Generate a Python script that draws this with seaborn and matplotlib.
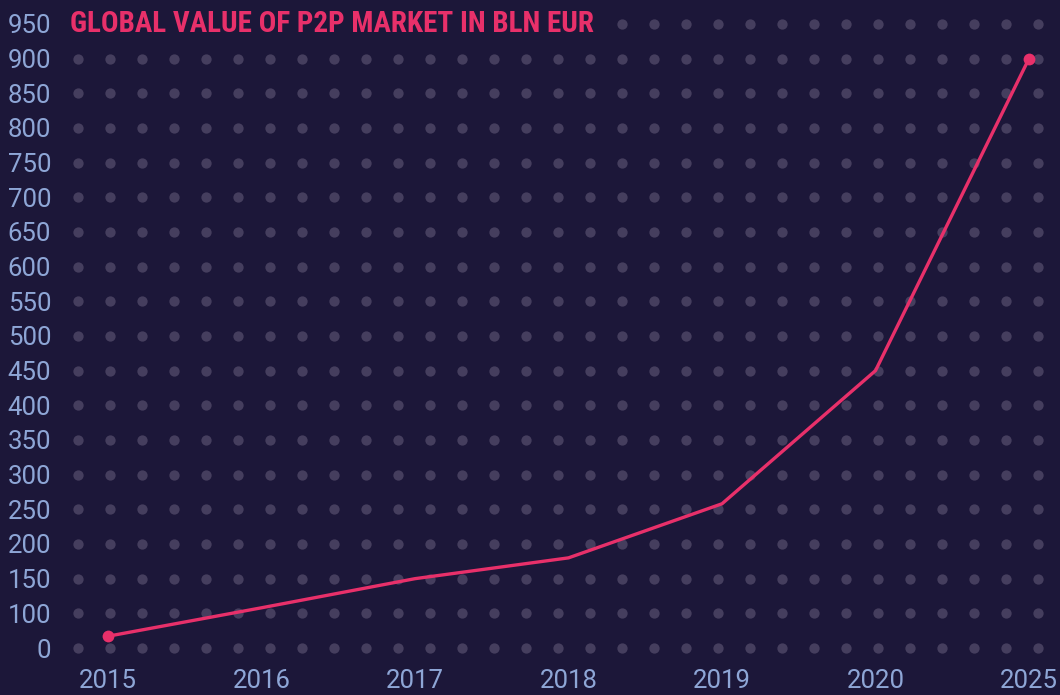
import matplotlib
matplotlib.use('Agg')
import matplotlib.pyplot as plt
import seaborn as sns
import pandas as pd
import numpy as np

# data
years = ['2015', '2016', '2017', '2018', '2019', '2020', '2025']
values = [67, 108, 150, 180, 258, 450, 900]
ytick_values = list(range(50, 1000, 50))
ytick_labels = ['0'] + [str(v) for v in range(100, 1000, 50)]
title = 'GLOBAL VALUE OF P2P MARKET IN BLN EUR'

bg = '#1c1739'
dot_col = '#453e5e'
pink = '#e8306a'
label_col = '#8ea6d6'

df = pd.DataFrame(dict(idx=np.arange(len(years)), value=values))

sns.set_theme(style='dark')
plt.rcParams['font.family'] = ['Roboto', 'DejaVu Sans']

fig = plt.figure(figsize=(10.6, 6.95), dpi=100, facecolor=bg)
ax = fig.add_axes([65 / 1060, 30 / 695, 1 - 65 / 1060, 665 / 695])
ax.set_facecolor(bg)

# dotted background grid
gx = -0.195 + 0.2085 * np.arange(32)
gy = np.array(ytick_values)
GX, GY = np.meshgrid(gx, gy)
ax.scatter(GX.ravel(), GY.ravel(), s=55, color=dot_col, linewidths=0, zorder=1)

sns.lineplot(data=df, x='idx', y='value', ax=ax, color=pink, linewidth=2.4,
             marker='o', markersize=8.5, markeredgewidth=0, markevery=[0, len(years) - 1],
             zorder=3)

ax.set_xlim(-0.280, 6.202)
ax.set_ylim(25.5, 984.5)
ax.set_xticks(df['idx'])
ax.set_xticklabels(years)
ax.set_yticks(ytick_values)
ax.set_yticklabels(ytick_labels)
ax.set(xlabel='', ylabel='')
ax.tick_params(axis='both', colors=label_col, labelsize=18.5, length=0)
ax.tick_params(axis='y', pad=10)
ax.tick_params(axis='x', pad=3)
for s in ax.spines.values():
    s.set_visible(False)
ax.grid(False)

ax.text(-0.2476, 950, title, ha='left', va='center', color=pink, fontsize=21,
        fontweight='bold', family=['Liberation Sans Narrow', 'Roboto Condensed', 'Roboto'],
        zorder=4, bbox=dict(facecolor=bg, edgecolor='none', pad=6))

fig.savefig('out.png', facecolor=bg)
